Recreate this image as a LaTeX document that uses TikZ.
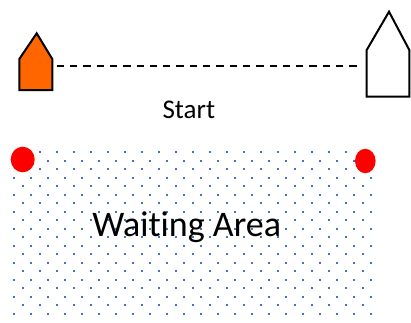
\documentclass[tikz,border=0pt]{standalone}
\usepackage{fontspec}
\setmainfont{Carlito}[Ligatures=NoCommon]
\definecolor{dotblue}{RGB}{68,114,196}
\definecolor{boatorange}{RGB}{255,102,0}
\definecolor{markred}{RGB}{255,0,0}
\begin{document}
\begin{tikzpicture}[x=1pt,y=-1pt,
  dotmark/.style={fill=dotblue,draw=none},
  boatline/.style={draw=black,line width=2pt,line join=miter},
  startline/.style={draw=black,line width=2pt,dash pattern=on 7.3pt off 6pt},
  redmark/.style={fill=markred,draw=none},
  lbl/.style={inner sep=0pt,anchor=base,text=black}]
\useasboundingbox (0,0) rectangle (411,322);
% waiting area dot pattern
\foreach \k in {0,...,9}{
  \foreach \i in {0,...,21}{
    \fill[dotmark] ({14+17*\i-1.1},{160.8+17*\k-1.1}) rectangle ++(2.2,2.2);
  }
  \foreach \i in {0,...,20}{
    \fill[dotmark] ({22.7+17*\i-1.1},{152.3+17*\k-1.1}) rectangle ++(2.2,2.2);
  }
}
% boats
\path[boatline,fill=boatorange] (19.3,90) -- (19.3,59) -- (36.7,33.3) -- (52.3,59) -- (52.3,90) -- cycle;
\path[boatline,fill=white] (366.7,96.7) -- (366.7,50) -- (389,11.7) -- (409.3,50) -- (409.3,96.7) -- cycle;
\coordinate (lineL) at (56.7,66);
\coordinate (lineR) at (360,66);
\draw[startline] (lineL) -- (lineR);
% marks
\fill[redmark] (22.7,159.5) ellipse [x radius=12,y radius=12.8];
\fill[redmark] (365.3,161) ellipse [x radius=10.3,y radius=12.2];
% labels
\node[lbl,font=\fontsize{27}{32}\selectfont] (start) at (188.8,118.3) {Start};
\node[lbl,font=\fontsize{36}{43}\selectfont] (wait) at (186.7,236.7) {Waiting Area};
\end{tikzpicture}
\end{document}
